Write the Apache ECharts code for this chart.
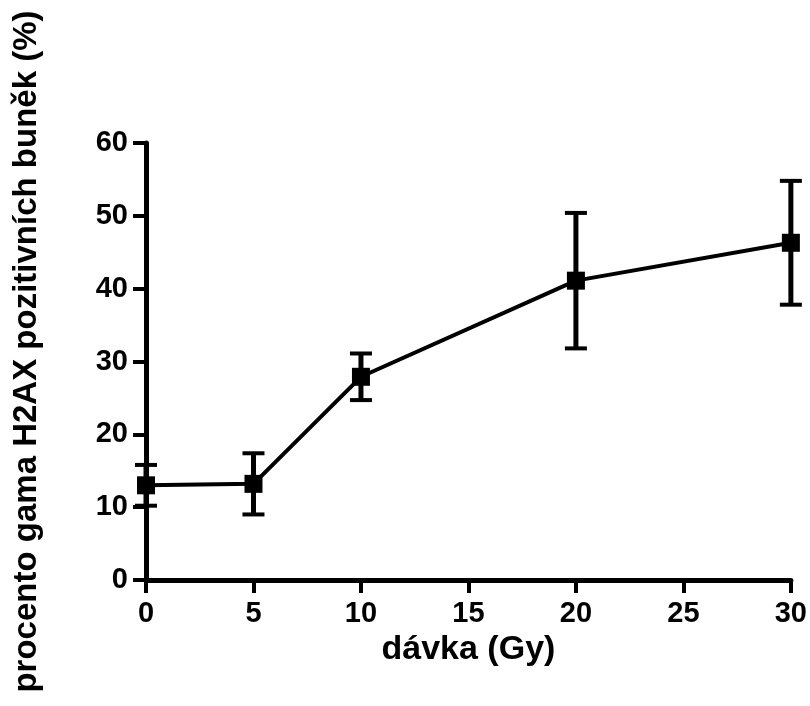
<!DOCTYPE html>
<html>
<head>
    <meta charset="utf-8">
    <title>gama H2AX</title>
    <script src="https://cdn.jsdelivr.net/npm/echarts@6/dist/echarts.min.js"></script>
    <style>
        *{ padding: 0; margin: 0; }
        html, body{ width: 100%; height: 100%; background: #fff; }
        #chart{ width: 810px; height: 706px; }
    </style>
</head>
<body>
    <div id="chart"></div>
</body>
<script>
    // data
    var doses = [0, 5, 10, 20, 30];            // dávka (Gy)
    var means = [13.0, 13.2, 27.9, 41.1, 46.3]; // % positive cells
    var errs  = [2.8, 4.2, 3.2, 9.3, 8.5];      // error bar half-length
    var xTicks = [0, 5, 10, 15, 20, 25, 30];
    var yTicks = [0, 10, 20, 30, 40, 50, 60];

    var font = 'Liberation Sans, Arial, sans-serif';

    var lineData = doses.map(function(d, i){ return [d, means[i]]; });
    var errData = doses.map(function(d, i){ return [d, means[i] - errs[i], means[i] + errs[i]]; });

    function renderErr(params, api){
        var lo = api.coord([api.value(0), api.value(1)]);
        var hi = api.coord([api.value(0), api.value(2)]);
        var half = 11;
        var st = { stroke: '#000', lineWidth: 5 };
        var cap = { stroke: '#000', lineWidth: 4 };
        return {
            type: 'group',
            children: [
                { type: 'line', shape: { x1: lo[0], y1: lo[1], x2: hi[0], y2: hi[1] }, style: st },
                { type: 'line', shape: { x1: lo[0]-half, y1: lo[1], x2: lo[0]+half, y2: lo[1] }, style: cap },
                { type: 'line', shape: { x1: hi[0]-half, y1: hi[1], x2: hi[0]+half, y2: hi[1] }, style: cap }
            ]
        };
    }

    var myChart = echarts.init(document.getElementById('chart'));
    myChart.setOption({
        backgroundColor: '#fff',
        animation: false,
        grid: { left: 146, right: 13, top: 143, bottom: 126 },
        xAxis: {
            type: 'value',
            min: xTicks[0],
            max: xTicks[xTicks.length - 1],
            interval: xTicks[1] - xTicks[0],
            name: 'dávka (Gy)',
            nameLocation: 'middle',
            nameGap: 37,
            nameTextStyle: { color: '#000', fontFamily: font, fontWeight: 'bold', fontSize: 34 },
            axisLine: { lineStyle: { color: '#000', width: 5 } },
            axisTick: { length: 13, lineStyle: { color: '#000', width: 4 } },
            axisLabel: { color: '#000', fontFamily: font, fontWeight: 'bold', fontSize: 29, margin: 19 },
            splitLine: { show: false }
        },
        yAxis: {
            type: 'value',
            min: yTicks[0],
            max: yTicks[yTicks.length - 1],
            interval: yTicks[1] - yTicks[0],
            name: 'procento gama H2AX pozitivních buněk (%)',
            nameLocation: 'middle',
            nameGap: 103,
            nameTextStyle: { color: '#000', fontFamily: font, fontWeight: 'bold', fontSize: 33, padding: [0, 0, 0, 20] },
            axisLine: { lineStyle: { color: '#000', width: 5 } },
            axisTick: { length: 13, lineStyle: { color: '#000', width: 4 } },
            axisLabel: { color: '#000', fontFamily: font, fontWeight: 'bold', fontSize: 29, margin: 18 },
            splitLine: { show: false }
        },
        series: [
            {
                type: 'custom',
                renderItem: renderErr,
                data: errData,
                encode: { x: 0, y: [1, 2] },
                z: 3
            },
            {
                type: 'line',
                data: lineData,
                symbol: 'rect',
                symbolSize: 18,
                lineStyle: { color: '#000', width: 4 },
                itemStyle: { color: '#000' },
                z: 4
            }
        ]
    });
</script>
</html>
